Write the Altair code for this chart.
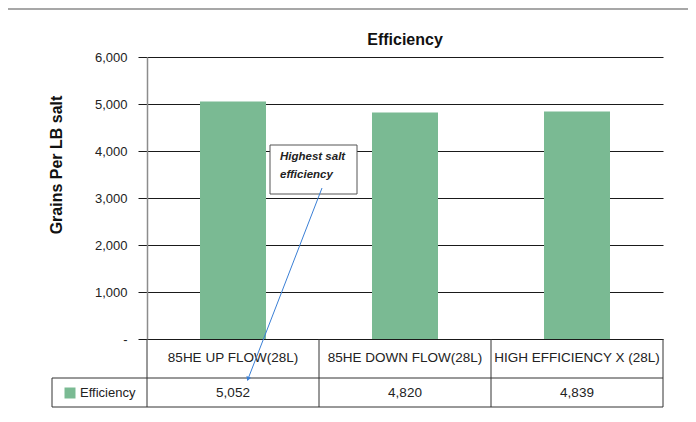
import altair as alt
import pandas as pd

categories = ["85HE UP FLOW(28L)", "85HE DOWN FLOW(28L)", "HIGH EFFICIENCY X (28L)"]
values = [5052, 4820, 4839]
series_name = "Efficiency"
y_ticks = [0, 1000, 2000, 3000, 4000, 5000, 6000]
chart_title = "Efficiency"
y_title = "Grains Per LB salt"
note_text = "Highest salt\nefficiency"

GREEN = "#7aba93"
FONT = "Liberation Sans"
W, H = 516, 282

df = pd.DataFrame({"cat": categories, "val": values})
one = pd.DataFrame({"a": [0]})

xenc = alt.X("cat:N", sort=categories, axis=None,
             scale=alt.Scale(paddingInner=0, paddingOuter=0))

bars = alt.Chart(df).mark_bar(size=66, color=GREEN).encode(
    x=xenc,
    y=alt.Y("val:Q", scale=alt.Scale(domain=[0, 6000]),
            axis=alt.Axis(values=y_ticks, title=None,
                          labelExpr="datum.value == 0 ? '-' : format(datum.value, ',')",
                          grid=True, gridColor="#1a1a1a", gridWidth=1,
                          tickColor="#1a1a1a", tickSize=9, tickWidth=1,
                          domainColor="#8c8c8c", domainWidth=1.5,
                          labelFont=FONT, labelFontSize=13, labelColor="#222",
                          labelPadding=11)),
)

header = alt.Chart(df).mark_text(font=FONT, fontSize=13.5, color="#222", baseline="middle").encode(
    x=xenc, y=alt.value(301), text="cat:N")
vals = alt.Chart(df).mark_text(font=FONT, fontSize=13.5, color="#222", baseline="middle").encode(
    x=xenc, y=alt.value(336), text=alt.Text("val:Q", format=","))
seps = alt.Chart(df).mark_rule(color="#333", strokeWidth=1).encode(
    x=alt.X("cat:N", sort=categories, axis=None, bandPosition=1,
            scale=alt.Scale(paddingInner=0, paddingOuter=0)),
    y=alt.value(282), y2=alt.value(350))

def rule(**kw):
    color = kw.pop("color", "#333")
    sw = kw.pop("sw", 1)
    return alt.Chart(one).mark_rule(color=color, strokeWidth=sw).encode(**kw)

table_lines = [
    rule(x=alt.value(0), y=alt.value(282), y2=alt.value(350)),
    rule(x=alt.value(-95), x2=alt.value(W), y=alt.value(321)),
    rule(x=alt.value(-95), x2=alt.value(W), y=alt.value(350)),
    rule(x=alt.value(-95), y=alt.value(321), y2=alt.value(350)),
]

frame = [
    rule(x=alt.value(-143), x2=alt.value(560), y=alt.value(-48), color="#8a8a8a", sw=1.5),
    rule(x=alt.value(-143), y=alt.value(-48), y2=alt.value(370), color="#8a8a8a", sw=1.5),
]

legend_sq = alt.Chart(one).mark_square(color=GREEN, opacity=1, size=121).encode(
    x=alt.value(-77), y=alt.value(336))
legend_txt = alt.Chart(one).mark_text(font=FONT, fontSize=13, color="#222", align="left",
                                      baseline="middle").encode(
    x=alt.value(-67), y=alt.value(336), text=alt.value(series_name))

title = alt.Chart(one).mark_text(font=FONT, fontSize=16, fontWeight="bold", color="#111",
                                 baseline="middle").encode(
    x=alt.value(W / 2), y=alt.value(-17), text=alt.value(chart_title))
ytitle = alt.Chart(one).mark_text(font=FONT, fontSize=16, fontWeight="bold", color="#111",
                                  baseline="middle", angle=270).encode(
    x=alt.value(-90), y=alt.value(108), text=alt.value(y_title))

note_box = alt.Chart(one).mark_rect(fill="white", stroke="#555", strokeWidth=1).encode(
    x=alt.value(123), x2=alt.value(210), y=alt.value(88), y2=alt.value(137))
note_txt = alt.Chart(one).mark_text(font=FONT, fontSize=11.5, fontWeight="bold", fontStyle="italic",
                                    color="#222", align="left", baseline="middle",
                                    lineBreak="\n", lineHeight=18).encode(
    x=alt.value(133), y=alt.value(100), text=alt.value(note_text))
arrow = rule(x=alt.value(175), y=alt.value(131), x2=alt.value(101), y2=alt.value(322),
             color="#3a7fd5", sw=1)
arrow_head = alt.Chart(one).mark_point(shape="triangle-down", filled=True, color="#3a7fd5",
                                       opacity=1, size=25, angle=21).encode(
    x=alt.value(101), y=alt.value(322))

chart = alt.layer(
    *frame, bars, header, vals, seps, *table_lines, legend_sq, legend_txt,
    title, ytitle, note_box, note_txt, arrow, arrow_head,
).properties(
    width=W, height=H,
    autosize=alt.AutoSizeParams(type="none"),
    padding={"left": 139, "top": 49, "right": 25, "bottom": 75},
).configure_view(stroke=None)

chart.save("out.html", embed_options={"renderer": "svg", "actions": False})
